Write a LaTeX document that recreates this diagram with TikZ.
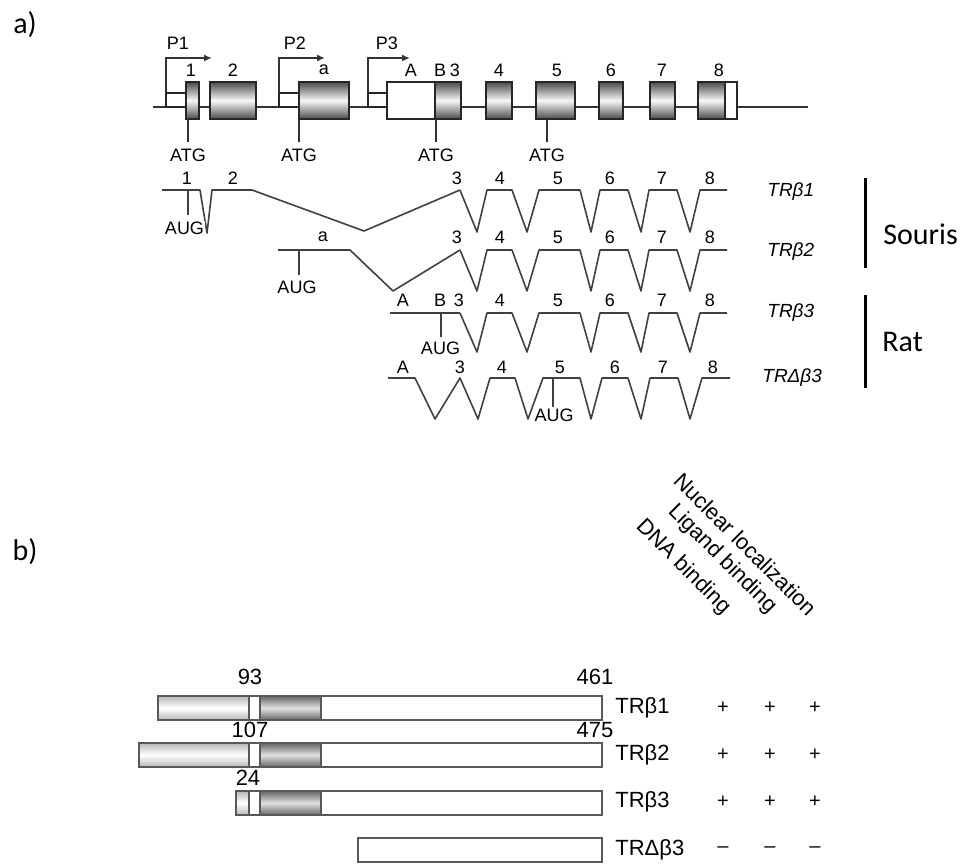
\documentclass[tikz,border=0pt]{standalone}
\usepackage{fontspec}
\setmainfont{Liberation Sans}
\newfontfamily\calibfont{Carlito}
\usetikzlibrary{arrows.meta}

\tikzset{
  exon/.style={draw=black!85, line width=0.9pt, top color=black!70, bottom color=black!70, middle color=black!3},
  utr/.style={draw=black!85, line width=0.9pt, fill=white},
  gline/.style={draw=black!80, line width=0.9pt},
  trline/.style={draw=black!75, line width=0.8pt, line join=round},
  lbl/.style={font=\fontsize{9}{10}\selectfont, inner sep=0pt},
  tname/.style={font=\fontsize{9.5}{11}\selectfont\itshape, anchor=west, inner sep=0pt},
  species/.style={font=\calibfont\fontsize{15}{17}\selectfont, anchor=west, inner sep=0pt},
  part/.style={font=\calibfont\fontsize{15}{17}\selectfont, inner sep=0pt},
  bar/.style={draw=black!65, line width=0.9pt, fill=white},
  light/.style={draw=black!65, line width=0.9pt, top color=black!28, bottom color=black!28, middle color=white},
  dark/.style={draw=black!65, line width=0.9pt, top color=black!60, bottom color=black!60, middle color=black!12},
  num/.style={font=\fontsize{11}{12}\selectfont, inner sep=0pt},
  bname/.style={font=\fontsize{11}{12}\selectfont, anchor=west, inner sep=0pt},
  sign/.style={font=\fontsize{10}{11}\selectfont, inner sep=0pt},
  head/.style={font=\fontsize{11}{12}\selectfont, rotate=-45, anchor=east, inner sep=0pt}
}

\begin{document}
\begin{tikzpicture}[x=0.5pt,y=-0.5pt,>={Latex[length=4pt,width=3.5pt]}]
\useasboundingbox (0,0) rectangle (971,868);
\node[part] (pa) at (25,25) {a)};
\node[part] (pb) at (25,552) {b)};

% gene
\draw[gline] (153,107) -- (808,107);
\foreach \px/\pe/\pl/\pn in {166/212/178/1, 279/325/295/2, 368/410/387/3}{
  \draw[gline,->] (\px,107) -- (\px,58) -- (\pe,58);
  \node[lbl] (p\pn) at (\pl,43) {P\pn};}
\foreach \xa/\xb in {166/186, 279/299, 368/387}
  \draw[utr] (\xa,93) rectangle (\xb,107);
\draw[utr] (387,82) rectangle (435,119);
\draw[utr] (725,82) rectangle (737,119);
\foreach \xa/\xb in {186/199, 210/256, 299/349, 435/461, 486/512, 536/575, 599/623, 650/675, 698/725}
  \draw[exon] (\xa,82) rectangle (\xb,119);
\foreach \x/\t in {191/1, 233/2, 324/a, 411/A, 440/B, 455/3, 499/4, 557/5, 611/6, 662/7, 719/8}
  \node[lbl] (g\t) at (\x,70) {\t};
\foreach \x/\n in {188/1, 299/2, 436/3, 547/4}{
  \draw[gline] (\x,119) -- (\x,142);
  \node[lbl] (atg\n) at (\x,155) {ATG};}

% transcripts
\draw[trline] (162,190) -- (200,190) -- (207,233) -- (212,190) -- (252,190) -- (364,231) -- (460,190);
\draw[trline] (278,250) -- (350,250) -- (393,291) -- (460,250);
\draw[trline] (390,313) -- (460,313);
\foreach \yt/\yb in {190/232, 250/291, 313/352}
  \draw[trline] (460,\yt) -- (477,\yb) -- (487,\yt) -- (512,\yt) -- (527,\yb) -- (539,\yt) -- (580,\yt) -- (591,\yb) -- (600,\yt) -- (628,\yt) -- (641,\yb) -- (649,\yt) -- (677,\yt) -- (690,\yb) -- (700,\yt) -- (727,\yt);
\draw[trline] (388,378) -- (415,378) -- (435,419) -- (460,378) -- (478,419) -- (490,378) -- (515,378) -- (528,419) -- (543,378) -- (580,378) -- (591,419) -- (602,378) -- (628,378) -- (641,419) -- (650,378) -- (678,378) -- (690,419) -- (702,378) -- (730,378);

\foreach \x/\t in {187/1, 233/2, 457/3, 500/4, 558/5, 610/6, 662/7, 710/8}
  \node[lbl] (ra\t) at (\x,178) {\t};
\foreach \x/\t in {323/a, 457/3, 500/4, 558/5, 610/6, 662/7, 710/8}
  \node[lbl] (rb\t) at (\x,237) {\t};
\foreach \x/\t in {403/A, 440/B, 459/3, 500/4, 558/5, 610/6, 662/7, 710/8}
  \node[lbl] (rc\t) at (\x,300) {\t};
\foreach \x/\t in {403/A, 460/3, 502/4, 560/5, 615/6, 663/7, 713/8}
  \node[lbl] (rd\t) at (\x,367) {\t};

\foreach \x/\ya/\yb/\yl/\n in {188/190/215/228/1, 299/250/275/287/2, 441/313/337/348/3, 553/378/407/415/4}{
  \draw[trline] (\x,\ya) -- (\x,\yb);
  \node[lbl,fill=white,inner sep=0.3pt] (aug\n) at (\x-5+\n*1.5,\yl) {AUG};}

\node[tname] (tr1) at (767,192) {TRβ1};
\node[tname] (tr2) at (767,252) {TRβ2};
\node[tname] (tr3) at (767,313) {TRβ3};
\node[tname] (tr4) at (762,378) {TRΔβ3};

\draw[line width=1.5pt] (865,178) -- (865,268);
\draw[line width=1.5pt] (865,295) -- (865,388);
\node[species] (souris) at (883,234) {Souris};
\node[species] (rat) at (882,342) {Rat};

% proteins
\foreach \yt/\xl in {696/158, 743/139, 791/236}{
  \draw[light] (\xl,\yt) rectangle (249,\yt+24);
  \draw[bar] (249,\yt) rectangle (260,\yt+24);
  \draw[dark] (260,\yt) rectangle (321,\yt+24);
  \draw[bar] (321,\yt) rectangle (602,\yt+24);}
\draw[bar] (358,838) rectangle (602,862);

\node[num] (n93) at (250,677) {93};
\node[num] (n461) at (595,677) {461};
\node[num] (n107) at (250,730) {107};
\node[num] (n475) at (595,730) {475};
\node[num] (n24) at (248,778) {24};

\foreach \y/\t/\n in {708/TRβ1/1, 755/TRβ2/2, 802/TRβ3/3, 850/TRΔβ3/4}
  \node[bname] (b\n) at (615,\y) {\t};
\foreach \y/\n in {708/1, 755/2, 802/3}
  \foreach \x/\c in {723/1, 770/2, 815/3}
    \node[sign] (s\n\c) at (\x,\y) {+};
\foreach \x/\c in {723/1, 770/2, 815/3}
  \node[sign] (s4\c) at (\x,850) {–};

\node[head] (hdna) at (727,611) {DNA binding};
\node[head] (hlig) at (773,610) {Ligand binding};
\node[head] (hnuc) at (813,612) {Nuclear localization};
\end{tikzpicture}
\end{document}
